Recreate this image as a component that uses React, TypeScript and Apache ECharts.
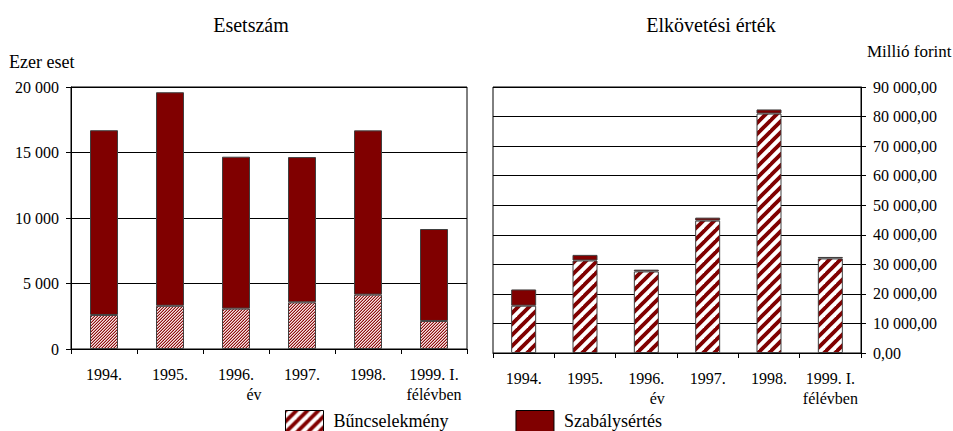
import React, { useEffect, useRef } from 'react';
import * as echarts from 'echarts';

// ---- data ----
const categories = ['1994.', '1995.', '1996.', '1997.', '1998.', '1999. I.'];
const secondLines = ['', '', 'év', '', '', 'félévben'];

// Esetszám (ezer eset)
const crimeCases = [2600, 3300, 3080, 3560, 4150, 2140];
const offenceCases = [14100, 16300, 11600, 11090, 12540, 7020];

// Elkövetési érték (millió forint)
const crimeValue = [16000, 31300, 27600, 44800, 81000, 32000];
const offenceValue = [5500, 1900, 600, 1000, 1400, 500];

const leftAxis = { min: 0, max: 20000, interval: 5000 };
const rightAxis = { min: 0, max: 90000, interval: 10000 };

const seriesNames = ['Bűncselekmény', 'Szabálysértés'];

const FONT = 'Liberation Serif';
const MAROON = '#800000';

function makeFine(): HTMLCanvasElement {
  const c = document.createElement('canvas');
  c.width = 3;
  c.height = 3;
  const g = c.getContext('2d')!;
  g.fillStyle = '#f6e4e4';
  g.fillRect(0, 0, 3, 3);
  g.fillStyle = '#d08a8a';
  g.fillRect(1, 0, 1, 1);
  g.fillRect(0, 1, 1, 1);
  g.fillRect(2, 2, 1, 1);
  g.fillStyle = '#8b1010';
  g.fillRect(2, 0, 1, 1);
  g.fillRect(1, 1, 1, 1);
  g.fillRect(0, 2, 1, 1);
  return c;
}

function makeStripes(size: number): HTMLCanvasElement {
  const c = document.createElement('canvas');
  c.width = size;
  c.height = size;
  const g = c.getContext('2d')!;
  g.fillStyle = '#ffffff';
  g.fillRect(0, 0, size, size);
  g.strokeStyle = MAROON;
  g.lineWidth = 3.8;
  for (const k of [0, size, 2 * size]) {
    g.beginPath();
    g.moveTo(k + 3, -3);
    g.lineTo(k - size - 3, size + 3);
    g.stroke();
  }
  return c;
}

function fmtThousands(v: number): string {
  return String(Math.round(v)).replace(/\B(?=(\d{3})+(?!\d))/g, ' ');
}

function xFormatter() {
  return (value: string, idx: number) => {
    const second = secondLines[idx];
    if (!second) return value;
    if (second === 'év') return value + '\n{e|' + second + '}';
    return value + '\n' + second;
  };
}

export default function App() {
  const ref = useRef<HTMLDivElement>(null);

  useEffect(() => {
    if (!ref.current) return;
    const chart = echarts.init(ref.current, undefined, { renderer: 'svg' });
    const fine = { image: makeFine(), repeat: 'repeat' };
    const stripes = { image: makeStripes(11), repeat: 'repeat' };
    const stripesLegend = { image: makeStripes(11), repeat: 'repeat' };

    const axisLabelBase = {
      color: '#000',
      fontFamily: FONT,
      fontSize: 16,
    };

    const xAxisCommon = (gridIndex: number, shift: number) => ({
      type: 'category',
      gridIndex,
      data: categories,
      axisLine: { show: true, lineStyle: { color: '#000', width: 1 } },
      axisTick: { show: true, length: 5, lineStyle: { color: '#000' } },
      axisLabel: {
        ...axisLabelBase,
        interval: 0,
        margin: 15,
        lineHeight: 20,
        formatter: xFormatter(),
        rich: {
          e: {
            color: '#000',
            fontFamily: FONT,
            fontSize: 16,
            lineHeight: 20,
            padding: [0, 0, 0, shift],
          },
        },
      },
      splitLine: { show: false },
    });

    const option: any = {
      animation: false,
      backgroundColor: '#ffffff',
      textStyle: { fontFamily: FONT },
      graphic: [
        {
          type: 'text',
          x: 251,
          y: 24.5,
          style: { text: 'Esetszám', fontFamily: FONT, fontSize: 20, fill: '#000', textAlign: 'center', textVerticalAlign: 'middle' },
        },
        {
          type: 'text',
          x: 711,
          y: 24.5,
          style: { text: 'Elkövetési érték', fontFamily: FONT, fontSize: 20, fill: '#000', textAlign: 'center', textVerticalAlign: 'middle' },
        },
        {
          type: 'text',
          x: 9,
          y: 62,
          style: { text: 'Ezer eset', fontFamily: FONT, fontSize: 18, fill: '#000', textAlign: 'left', textVerticalAlign: 'middle' },
        },
        {
          type: 'text',
          x: 867,
          y: 51,
          style: { text: 'Millió forint', fontFamily: FONT, fontSize: 17, fill: '#000', textAlign: 'left', textVerticalAlign: 'middle' },
        },
      ],
      legend: {
        top: 410,
        left: 285,
        padding: 0,
        itemWidth: 38,
        itemHeight: 21,
        itemGap: 67,
        icon: 'rect',
        selectedMode: false,
        textStyle: { color: '#000', fontFamily: FONT, fontSize: 18, padding: [0, 0, 0, 5] },
        data: [
          { name: seriesNames[0], itemStyle: { color: stripesLegend, borderColor: '#000', borderWidth: 1 } },
          { name: seriesNames[1], itemStyle: { color: MAROON, borderColor: '#000', borderWidth: 1 } },
        ],
      },
      grid: [
        { left: 71, top: 87, width: 396, height: 262, show: true, borderColor: '#000', borderWidth: 1, backgroundColor: 'transparent', containLabel: false },
        { left: 493, top: 87, width: 368, height: 266, show: true, borderColor: '#000', borderWidth: 1, backgroundColor: 'transparent', containLabel: false },
      ],
      xAxis: [xAxisCommon(0, 36), xAxisCommon(1, 22)],
      yAxis: [
        {
          type: 'value',
          gridIndex: 0,
          min: leftAxis.min,
          max: leftAxis.max,
          interval: leftAxis.interval,
          axisLine: { show: true, lineStyle: { color: '#000' } },
          axisTick: { show: true, length: 5, lineStyle: { color: '#000' } },
          splitLine: { show: true, lineStyle: { color: '#000', width: 1 } },
          axisLabel: { ...axisLabelBase, margin: 12, formatter: (v: number) => fmtThousands(v) },
        },
        {
          type: 'value',
          gridIndex: 1,
          position: 'right',
          min: rightAxis.min,
          max: rightAxis.max,
          interval: rightAxis.interval,
          axisLine: { show: true, lineStyle: { color: '#000' } },
          axisTick: { show: true, length: 5, lineStyle: { color: '#000' } },
          splitLine: { show: true, lineStyle: { color: '#000', width: 1 } },
          axisLabel: { ...axisLabelBase, margin: 12, formatter: (v: number) => fmtThousands(v) + ',00' },
        },
      ],
      series: [
        {
          name: seriesNames[0],
          type: 'bar',
          xAxisIndex: 0,
          yAxisIndex: 0,
          stack: 'left',
          barWidth: 28,
          silent: true,
          data: crimeCases,
          itemStyle: { color: fine, borderColor: '#404040', borderWidth: 1 },
        },
        {
          name: seriesNames[1],
          type: 'bar',
          xAxisIndex: 0,
          yAxisIndex: 0,
          stack: 'left',
          barWidth: 28,
          silent: true,
          data: offenceCases,
          itemStyle: { color: MAROON, borderColor: '#404040', borderWidth: 1 },
        },
        {
          name: seriesNames[0],
          type: 'bar',
          xAxisIndex: 1,
          yAxisIndex: 1,
          stack: 'right',
          barWidth: 25,
          silent: true,
          data: crimeValue,
          itemStyle: { color: stripes, borderColor: '#404040', borderWidth: 1 },
        },
        {
          name: seriesNames[1],
          type: 'bar',
          xAxisIndex: 1,
          yAxisIndex: 1,
          stack: 'right',
          barWidth: 25,
          silent: true,
          data: offenceValue,
          itemStyle: { color: MAROON, borderColor: '#404040', borderWidth: 1 },
        },
      ],
    };

    chart.setOption(option);
    return () => {
      chart.dispose();
    };
  }, []);

  return (
    <div
      ref={ref}
      style={{ position: 'fixed', left: 0, top: 0, width: 953, height: 431, background: '#fff' }}
    />
  );
}
